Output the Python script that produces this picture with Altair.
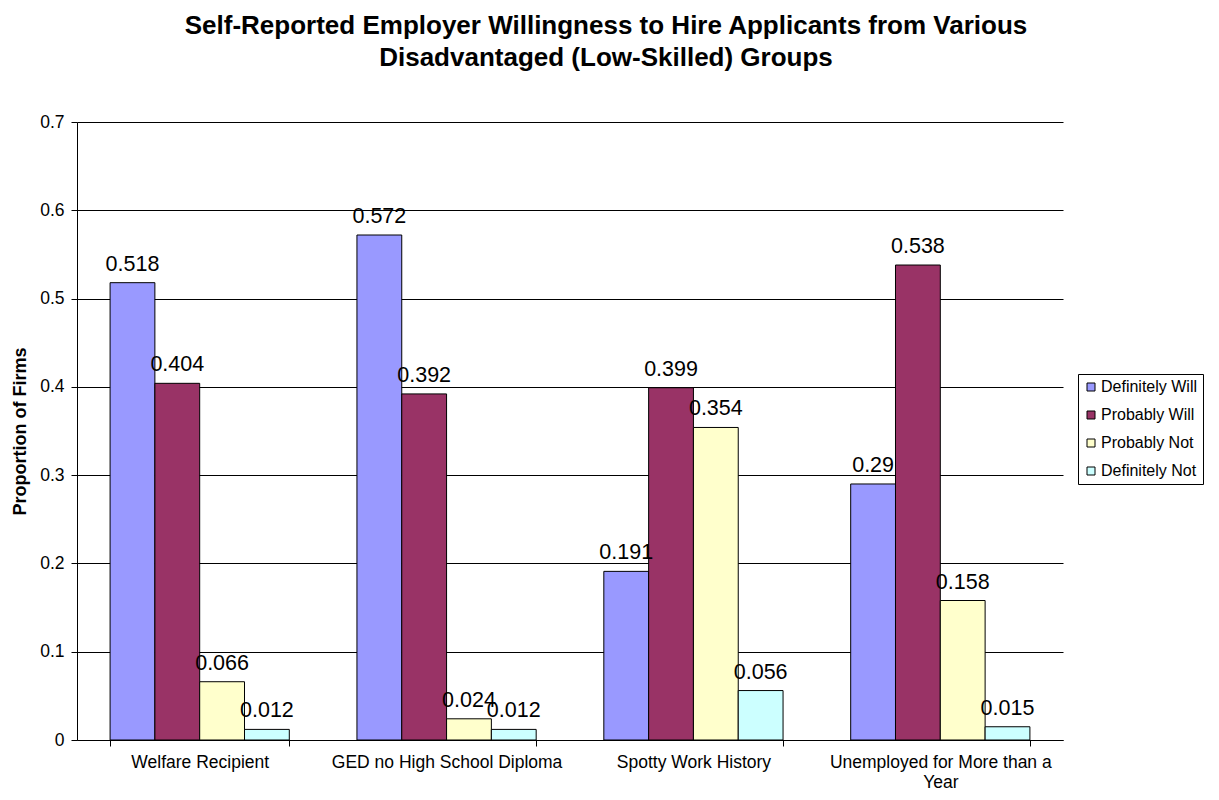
import altair as alt
import pandas as pd

categories = ["Welfare Recipient", "GED no High School Diploma", "Spotty Work History",
              "Unemployed for More than a Year"]
series = ["Definitely Will", "Probably Will", "Probably Not", "Definitely Not"]
definitely_will = [0.518, 0.572, 0.191, 0.29]
probably_will = [0.404, 0.392, 0.399, 0.538]
probably_not = [0.066, 0.024, 0.354, 0.158]
definitely_not = [0.012, 0.012, 0.056, 0.015]
colors = ["#9999FF", "#993366", "#FFFFCC", "#CCFFFF"]
y_ticks = [0, 0.1, 0.2, 0.3, 0.4, 0.5, 0.6, 0.7]

rows = []
for s, vals in zip(series, [definitely_will, probably_will, probably_not, definitely_not]):
    for c, v in zip(categories, vals):
        rows.append({"category": c, "series": s, "value": v})
df = pd.DataFrame(rows)

FONT = "Liberation Sans"

x_enc = alt.X("category:N", sort=categories,
              scale=alt.Scale(paddingInner=0.274, paddingOuter=0.134),
              axis=alt.Axis(title=None, labelAngle=0, tickBand="extent", tickSize=6,
                            labelPadding=7, labelFontSize=17.5, labelColor="#000",
                            labelFont=FONT, domainColor="#000", tickColor="#000",
                            labelLimit=300, labelLineHeight=20,
                            labelExpr="datum.label == 'Unemployed for More than a Year' ? ['Unemployed for More than a', 'Year'] : datum.label"))
xoff = alt.XOffset("series:N", sort=series, scale=alt.Scale(paddingInner=0, paddingOuter=0))
y_enc = alt.Y("value:Q", scale=alt.Scale(domain=[0, 0.7], nice=False),
              axis=alt.Axis(title="Proportion of Firms", values=y_ticks, format=".1~f",
                            grid=True, gridColor="#000", gridOpacity=1, gridWidth=1,
                            domainColor="#000", tickColor="#000", tickSize=6,
                            labelFontSize=17.5, labelColor="#000", labelFont=FONT, labelPadding=7,
                            titleFont=FONT, titleFontSize=18, titleFontWeight="bold",
                            titleColor="#000", titlePadding=10))

bars = alt.Chart(df).mark_bar(stroke="#000", strokeWidth=1).encode(
    x=x_enc, xOffset=xoff, y=y_enc,
    color=alt.Color("series:N", sort=series,
                    scale=alt.Scale(domain=series, range=colors),
                    legend=alt.Legend(title=None, orient="none", legendX=1001, legendY=252,
                                      strokeColor="#000", padding=5, symbolType="square",
                                      symbolSize=64, symbolStrokeColor="#000",
                                      symbolStrokeWidth=1, labelFontSize=16, labelFont=FONT,
                                      labelColor="#000", rowPadding=12, labelOffset=2,
                                      fillColor="#fff", labelLimit=300)),
)

labels = alt.Chart(df).mark_text(baseline="alphabetic", dy=-12, fontSize=21.5, font=FONT,
                                 color="#000").encode(
    x=alt.X("category:N", sort=categories), xOffset=xoff, y="value:Q",
    text=alt.Text("value:Q", format=".3~f"),
)

chart = alt.layer(bars, labels).properties(
    width=986, height=618,
    title=alt.TitleParams(
        ["Self-Reported Employer Willingness to Hire Applicants from Various",
         "Disadvantaged (Low-Skilled) Groups"],
        font=FONT, fontSize=26, fontWeight="bold", color="#000", anchor="middle",
        offset=42, lineHeight=32, dx=36),
    autosize=alt.AutoSizeParams(type="none"),
    padding={"left": 69, "top": 114, "right": 148, "bottom": 52},
    background="#fff",
).configure_view(stroke=None)

chart.save("out.html", embed_options={"renderer": "svg", "actions": False})
